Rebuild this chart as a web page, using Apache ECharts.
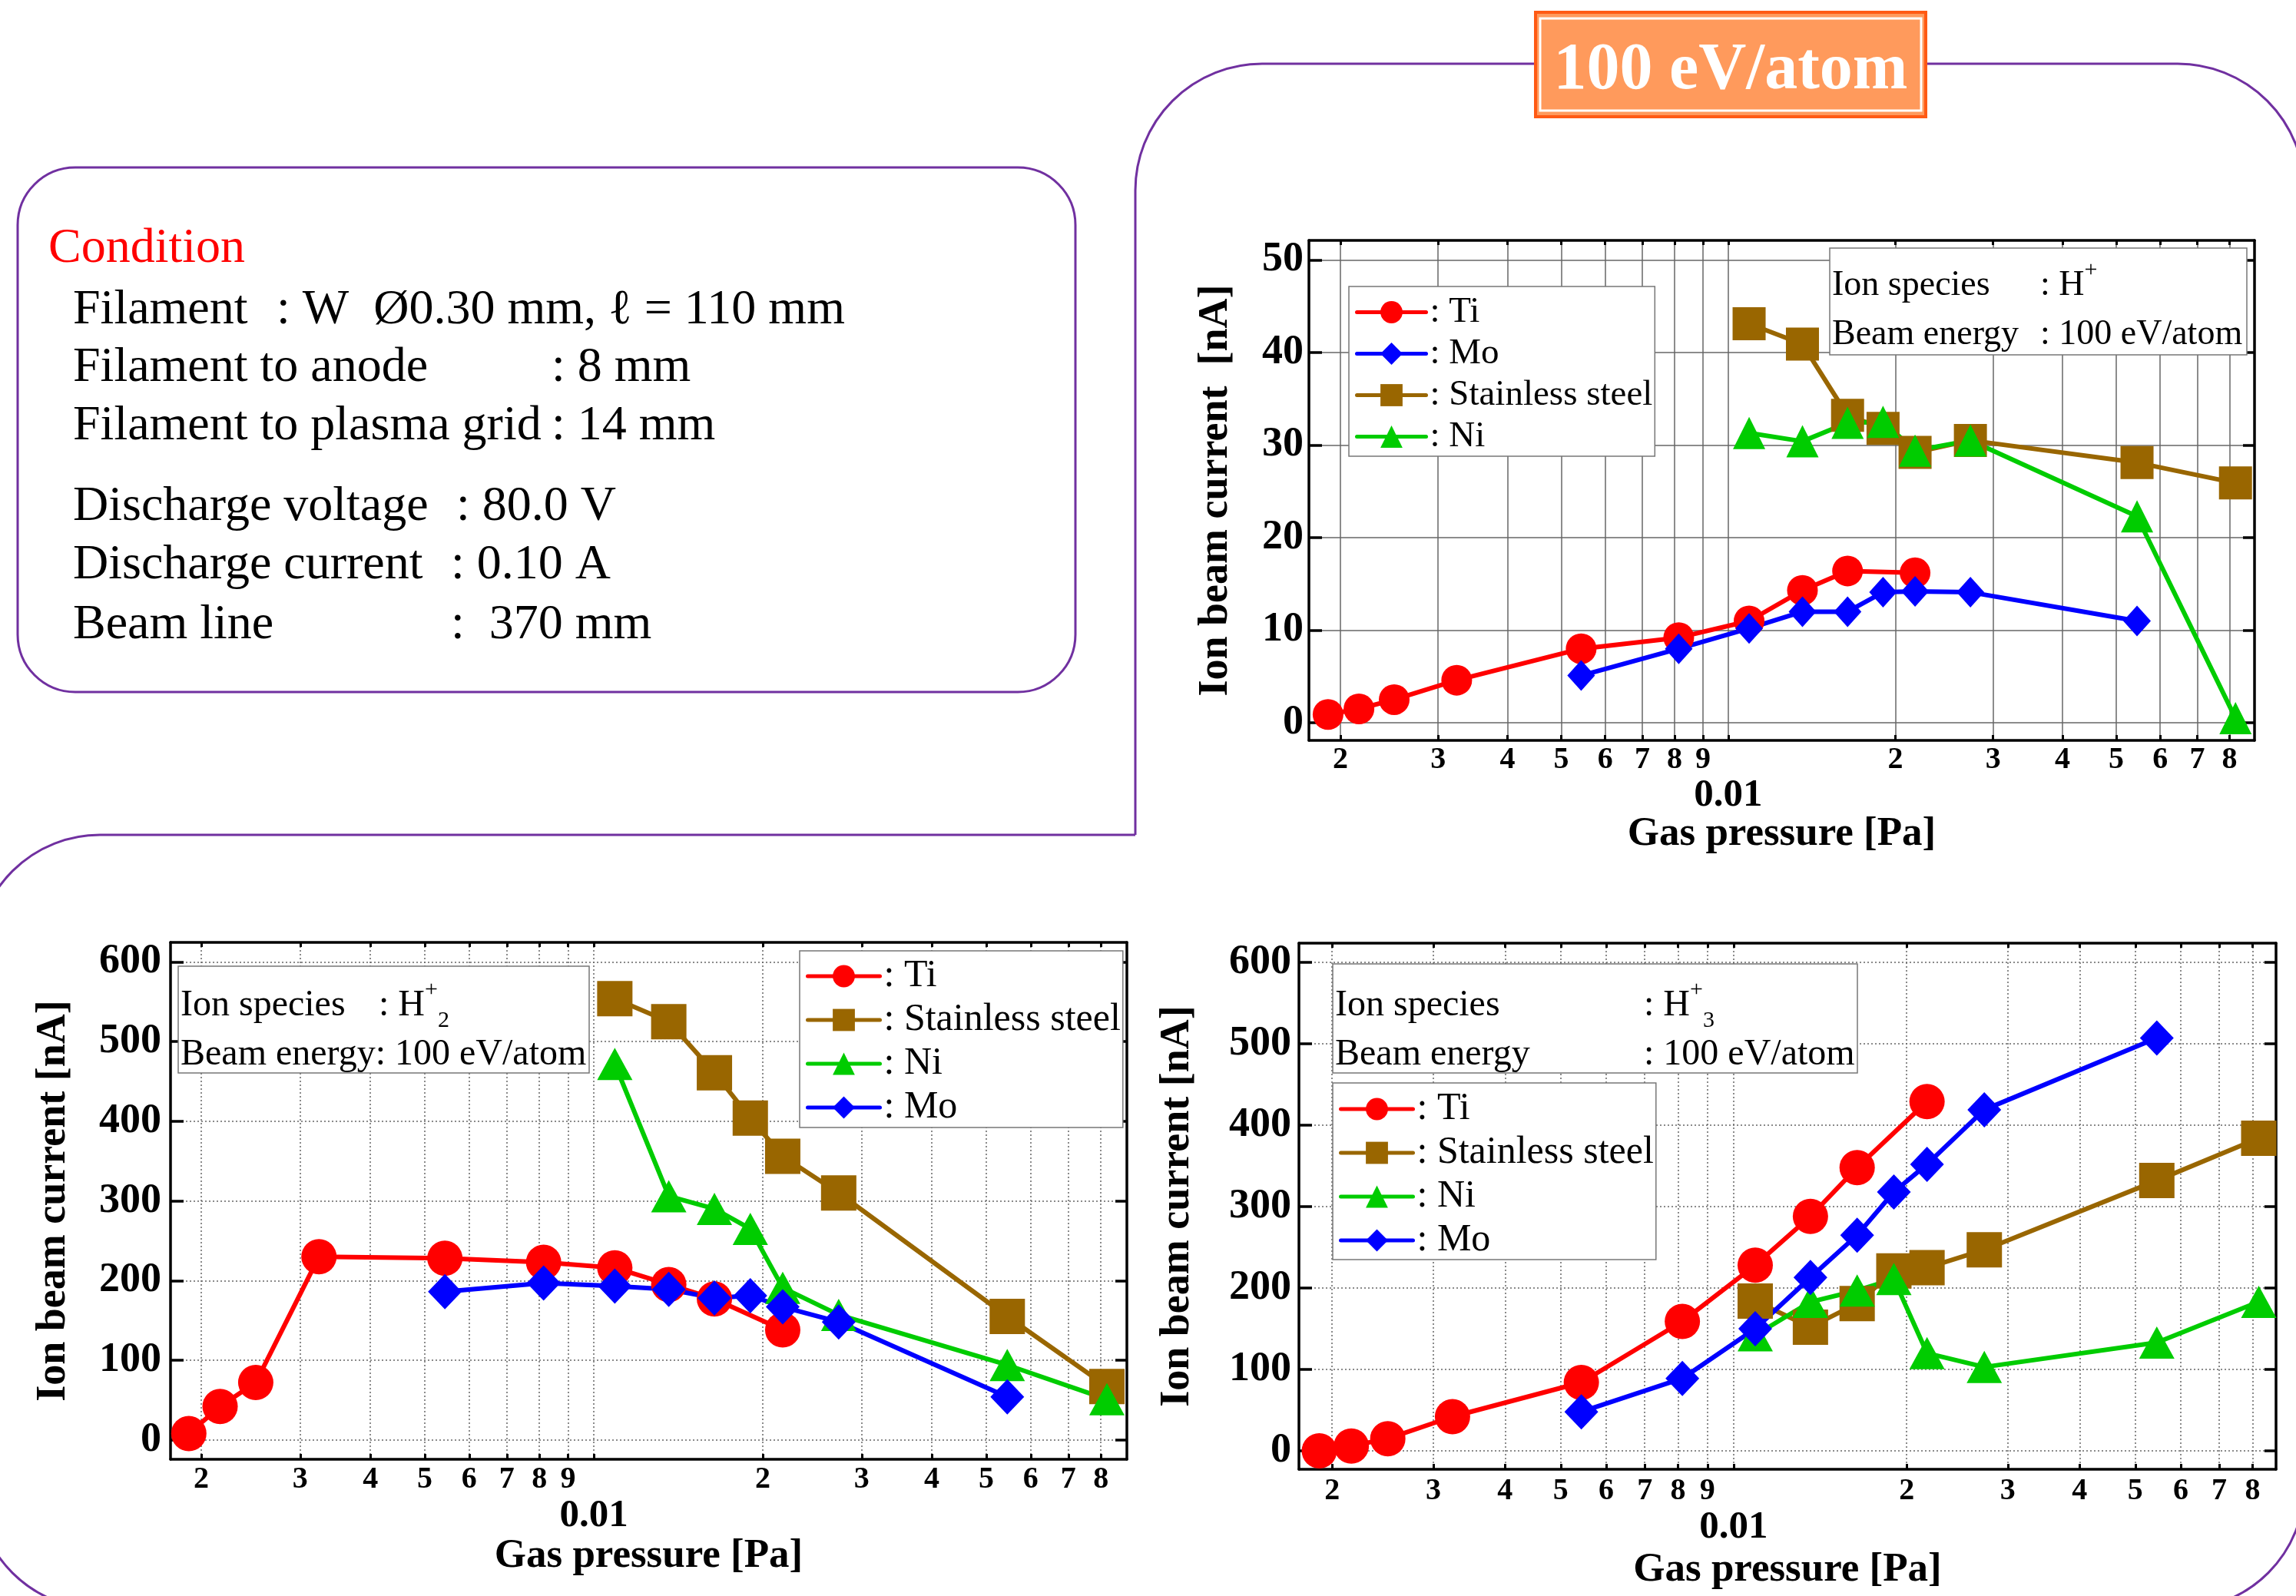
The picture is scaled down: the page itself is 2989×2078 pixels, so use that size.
<!DOCTYPE html>
<html>
<head>
<meta charset="utf-8">
<script src="https://cdn.jsdelivr.net/npm/echarts@6/dist/echarts.min.js"></script>
<style>
  html, body { margin: 0; padding: 0; background: #fff; }
  #main { width: 2989px; height: 2078px; }
</style>
</head>
<body>
<div id="main"></div>
<script>
// gas pressure [Pa] of each measured point
const pTi = [0.0019, 0.00216, 0.0025, 0.00324, 0.00543, 0.00814, 0.0109, 0.0136, 0.0164, 0.0217];
const pMo = [0.00543, 0.00814, 0.0109, 0.0136, 0.0164, 0.019, 0.0217, 0.0273, 0.0545];
const pSS = [0.0109, 0.0136, 0.0164, 0.019, 0.0217, 0.0273, 0.0545, 0.082];
const pNi = [0.0109, 0.0136, 0.0164, 0.019, 0.0217, 0.0273, 0.0545, 0.082];

// H+ beam current [nA]
const h1Ti = [0.9, 1.5, 2.5, 4.6, 8.0, 9.2, 11.0, 14.3, 16.4, 16.2];
const h1Mo = [5.1, 8.0, 10.2, 12.0, 12.0, 14.1, 14.2, 14.1, 11.0];
const h1SS = [43.1, 40.9, 33.2, 31.8, 29.2, 30.5, 28.1, 25.9];
const h1Ni = [31.3, 30.4, 32.4, 32.5, 29.4, 30.5, 22.3, 0.5];
// H2+
const h2Ti = [8, 42, 72, 230, 228, 223, 216, 195, 177, 138];
const h2Mo = [186, 197, 193, 189, 178, 181, 167, 148, 54];
const h2SS = [554, 525, 461, 404, 356, 310, 155, 67];
const h2Ni = [472, 306, 290, 265, 191, 157, 94, 51];
// H3+
const h3Ti = [0, 6, 15, 42, 84, 159, 228, 288, 348, 429];
const h3Mo = [48, 89, 150, 213, 265, 318, 352, 419, 507];
const h3SS = [184, 152, 181, 221, 225, 247, 332, 384];
const h3Ni = [142, 183, 197, 211, 120, 103, 133, 183];

// tick values
const xTicks = [0.002, 0.003, 0.004, 0.005, 0.006, 0.007, 0.008, 0.009, 0.01,
  0.02, 0.03, 0.04, 0.05, 0.06, 0.07, 0.08];
const yTicksTop = [0, 10, 20, 30, 40, 50];
const yTicksBottom = [0, 100, 200, 300, 400, 500, 600];

const FONT = "'Liberation Serif', 'Times New Roman', serif";
const PURPLE = '#7030a0';
const look = {
  'Ti': { color: '#ff0000', symbol: 'circle' },
  'Mo': { color: '#0000ff', symbol: 'diamond' },
  'Stainless steel': { color: '#996600', symbol: 'rect' },
  'Ni': { color: '#00cc00', symbol: 'triangle' }
};

const panels = [
  {
    grid: { left: 1704, top: 313, width: 1231, height: 651 },
    xRange: [-2.7557, -1.0519], yRange: [-1.9, 52.1], yTicks: yTicksTop,
    split: 'solid', yName: 'Ion beam current  [nA]', yNameGap: 94, xNameGap: 96,
    xMargin: 6, zeroPad: 82, yMargin: 7,
    sym: { circle: 40, diamond: [36, 40], rect: 43, triangle: 42 },
    lines: [['Ti', pTi, h1Ti], ['Mo', pMo, h1Mo], ['Stainless steel', pSS, h1SS], ['Ni', pNi, h1Ni]]
  },
  {
    grid: { left: 222, top: 1227, width: 1245, height: 673 },
    xRange: [-2.7538, -1.0506], yRange: [-24.4, 624.6], yTicks: yTicksBottom,
    split: [2, 3], yName: 'Ion beam current [nA]', yNameGap: 125, xNameGap: 100,
    xMargin: 7, zeroPad: 84, yMargin: 12,
    sym: { circle: 46, diamond: [44, 46], rect: 46, triangle: [46, 42] },
    lines: [['Ti', pTi, h2Ti], ['Stainless steel', pSS, h2SS], ['Ni', pNi, h2Ni], ['Mo', pMo, h2Mo]]
  },
  {
    grid: { left: 1691, top: 1228, width: 1272, height: 685 },
    xRange: [-2.7567, -1.0561], yRange: [-22.6, 623.6], yTicks: yTicksBottom,
    split: [2, 3], yName: 'Ion beam current [nA]', yNameGap: 131, xNameGap: 105,
    xMargin: 9, zeroPad: 84, yMargin: 10,
    sym: { circle: 46, diamond: [44, 46], rect: 46, triangle: [46, 42] },
    lines: [['Ti', pTi, h3Ti], ['Stainless steel', pSS, h3SS], ['Ni', pNi, h3Ni], ['Mo', pMo, h3Mo]]
  }
];

const xTickLog = xTicks.map(v => Math.log10(v));

// label under each log tick: the digit, or 0.01 one row lower
function xLabel(v) {
  const dec = Math.pow(10, Math.floor(v + 1e-9));
  const d = Math.round(Math.pow(10, v) / dec);
  return d === 1 ? '{z|0.01}' : '{d|' + d + '}';
}

const frame = { onZero: false, lineStyle: { color: '#000', width: 3.5 } };
const grids = [], xAxes = [], yAxes = [], series = [];

panels.forEach((pn, i) => {
  grids.push(Object.assign({ outerBoundsMode: 'none', containLabel: false }, pn.grid));
  const splitStyle = { color: '#666', width: 1.5, type: pn.split };
  xAxes.push({
    gridIndex: i, type: 'value', position: 'bottom', min: pn.xRange[0], max: pn.xRange[1],
    axisLine: frame,
    axisTick: { inside: true, length: 7, customValues: xTickLog, lineStyle: { color: '#000', width: 3 } },
    axisLabel: {
      customValues: xTickLog, formatter: xLabel, margin: pn.xMargin,
      rich: {
        d: { fontFamily: FONT, fontWeight: 'bold', fontSize: 40, color: '#000', lineHeight: 40 },
        z: { fontFamily: FONT, fontWeight: 'bold', fontSize: 51, color: '#000', lineHeight: 50, padding: [pn.zeroPad, 0, 0, 0] }
      }
    },
    splitLine: { show: true, lineStyle: splitStyle },
    name: 'Gas pressure [Pa]', nameLocation: 'middle', nameGap: pn.xNameGap, nameMoveOverlap: false,
    nameTextStyle: { fontFamily: FONT, fontWeight: 'bold', fontSize: 53, color: '#000' }
  });
  xAxes.push({
    gridIndex: i, type: 'value', position: 'top', min: pn.xRange[0], max: pn.xRange[1],
    axisLine: frame,
    axisTick: { inside: true, length: 6, customValues: xTickLog, lineStyle: { color: '#000', width: 3 } },
    axisLabel: { show: false }, splitLine: { show: false }
  });
  yAxes.push({
    gridIndex: i, type: 'value', position: 'left', min: pn.yRange[0], max: pn.yRange[1],
    axisLine: frame,
    axisTick: { inside: true, length: 17, customValues: pn.yTicks, lineStyle: { color: '#000', width: 3.5 } },
    axisLabel: { customValues: pn.yTicks, margin: pn.yMargin, fontFamily: FONT, fontWeight: 'bold', fontSize: 54, color: '#000' },
    splitLine: { show: true, lineStyle: splitStyle },
    name: pn.yName, nameLocation: 'middle', nameRotate: 90, nameGap: pn.yNameGap, nameMoveOverlap: false,
    nameTextStyle: { fontFamily: FONT, fontWeight: 'bold', fontSize: 54, color: '#000' }
  });
  yAxes.push({
    gridIndex: i, type: 'value', position: 'right', min: pn.yRange[0], max: pn.yRange[1],
    axisLine: frame,
    axisTick: { inside: true, length: 15, customValues: pn.yTicks, lineStyle: { color: '#000', width: 3.5 } },
    axisLabel: { show: false }, splitLine: { show: false }
  });
  pn.lines.forEach(([name, ps, vs]) => {
    const lk = look[name];
    series.push({
      type: 'line', name: name, xAxisIndex: 2 * i, yAxisIndex: 2 * i,
      data: ps.map((p, k) => [Math.log10(p), vs[k]]),
      symbol: lk.symbol, symbolSize: pn.sym[lk.symbol], clip: false,
      lineStyle: { color: lk.color, width: 6 },
      itemStyle: { color: lk.color }
    });
  });
});

function legendAt(left, top, names, size, iw, pad) {
  return {
    orient: 'vertical', left: left, top: top, data: names, selectedMode: false,
    itemWidth: iw, itemHeight: 36, itemGap: 7, padding: pad,
    backgroundColor: '#fff', borderColor: '#777', borderWidth: 1.5, borderRadius: 0,
    lineStyle: { width: 5, cap: 'round' },
    formatter: n => ': ' + n,
    textStyle: { fontFamily: FONT, fontSize: size, lineHeight: size, color: '#000' }
  };
}

function infoBox(left, top, size, labelW, line1, line2, pad) {
  const t = { fontFamily: FONT, fontSize: size, color: '#000' };
  return {
    left: left, top: top, padding: pad,
    backgroundColor: '#fff', borderColor: '#777', borderWidth: 1.5,
    text: line1 + '\n' + line2,
    textStyle: {
      fontFamily: FONT, fontWeight: 'normal', fontSize: size, color: '#000',
      rich: {
        a: Object.assign({ width: labelW, lineHeight: 70 }, t),
        b: Object.assign({ lineHeight: 70 }, t),
        a2: Object.assign({ width: labelW, lineHeight: 58 }, t),
        b2: Object.assign({ lineHeight: 58 }, t),
        sup: { fontFamily: FONT, fontSize: 30, color: '#000', verticalAlign: 'top', lineHeight: 44 },
        sub: { fontFamily: FONT, fontSize: 30, color: '#000', verticalAlign: 'bottom', lineHeight: 20 }
      }
    }
  };
}

// rounded panel outlines and condition text
const cond = [
  ['Filament', 95, ': W  \u00d80.30 mm, \u2113 = 110 mm', 360, 419],
  ['Filament to anode', 95, ': 8 mm', 718, 494],
  ['Filament to plasma grid', 95, ': 14 mm', 718, 570],
  ['Discharge voltage', 95, ': 80.0 V', 594, 675],
  ['Discharge current', 95, ': 0.10 A', 587, 751],
  ['Beam line', 95, ':  370 mm', 587, 829]
];
const purple = { stroke: PURPLE, lineWidth: 3, fill: null };
const graphic = [
  { type: 'arc', shape: { cx: 1643, cy: 248, r: 165, startAngle: Math.PI, endAngle: 1.5 * Math.PI }, style: purple },
  { type: 'line', shape: { x1: 1643, y1: 83, x2: 2835, y2: 83 }, style: purple },
  { type: 'arc', shape: { cx: 2835, cy: 248, r: 165, startAngle: 1.5 * Math.PI, endAngle: 2 * Math.PI }, style: purple },
  { type: 'line', shape: { x1: 1478, y1: 248, x2: 1478, y2: 1087 }, style: purple },
  { type: 'line', shape: { x1: 130, y1: 1087, x2: 1478, y2: 1087 }, style: purple },
  { type: 'arc', shape: { cx: 130, cy: 1248, r: 161, startAngle: Math.PI, endAngle: 1.5 * Math.PI }, style: purple },
  { type: 'arc', shape: { cx: 2839, cy: 1934, r: 161, startAngle: 0, endAngle: 0.5 * Math.PI }, style: purple },
  { type: 'arc', shape: { cx: 130, cy: 1934, r: 161, startAngle: 0.5 * Math.PI, endAngle: Math.PI }, style: purple },
  { type: 'rect', shape: { x: 23, y: 218, width: 1377, height: 683, r: 75 }, style: { stroke: PURPLE, lineWidth: 3, fill: '#fff' } },
  { type: 'text', x: 63, y: 324, style: { text: 'Condition', fill: '#ff0000', font: '64px ' + FONT, verticalAlign: 'middle' } },
  // title badge
  { type: 'rect', shape: { x: 1999, y: 16, width: 508, height: 136 }, style: { fill: '#ff9a5c', stroke: '#ff5a14', lineWidth: 4 } },
  { type: 'rect', shape: { x: 2005, y: 24, width: 496, height: 120 }, style: { fill: null, stroke: '#fff', lineWidth: 3 } },
  { type: 'text', x: 2253, y: 93, style: { text: '100 eV/atom', fill: '#fff', font: 'bold 86px ' + FONT, align: 'center', verticalAlign: 'middle' } }
];
cond.forEach(([lab, lx, val, vx, base]) => {
  graphic.push({ type: 'text', x: lx, y: base - 15, style: { text: lab, fill: '#000', font: '64px ' + FONT, verticalAlign: 'middle' } });
  graphic.push({ type: 'text', x: vx, y: base - 15, style: { text: val, fill: '#000', font: '64px ' + FONT, verticalAlign: 'middle' } });
});

const option = {
  animation: false,
  backgroundColor: '#fff',
  graphic: graphic,
  title: [
    infoBox(2382, 323, 46, 271, '{a|Ion species}{b|: H}{sup|+}', '{a2|Beam energy}{b2|: 100 eV/atom}', [14, 6, 3, 3]),
    infoBox(232, 1258, 48, 258, '{a|Ion species}{b|: H}{sup|+}{sub|2}', '{b2|Beam energy: 100 eV/atom}', [16, 4, 0, 3]),
    infoBox(1735, 1255, 48, 402, '{a|Ion species}{b|: H}{sup|+}{sub|3}', '{a2|Beam energy}{b2|: 100 eV/atom}', [19, 4, 0, 3])
  ],
  legend: [
    legendAt(1756, 373, ['Ti', 'Mo', 'Stainless steel', 'Ni'], 47, 90, [10, 3, 2, 8]),
    legendAt(1041, 1238, ['Ti', 'Stainless steel', 'Ni', 'Mo'], 50, 94, [8, 3, 1, 8]),
    legendAt(1735, 1410, ['Ti', 'Stainless steel', 'Ni', 'Mo'], 50, 94, [9, 3, 0, 8])
  ],
  grid: grids,
  xAxis: xAxes,
  yAxis: yAxes,
  series: series
};

const chart = echarts.init(document.getElementById('main'));
chart.setOption(option);
window.addEventListener('resize', () => chart.resize());
</script>
</body>
</html>
